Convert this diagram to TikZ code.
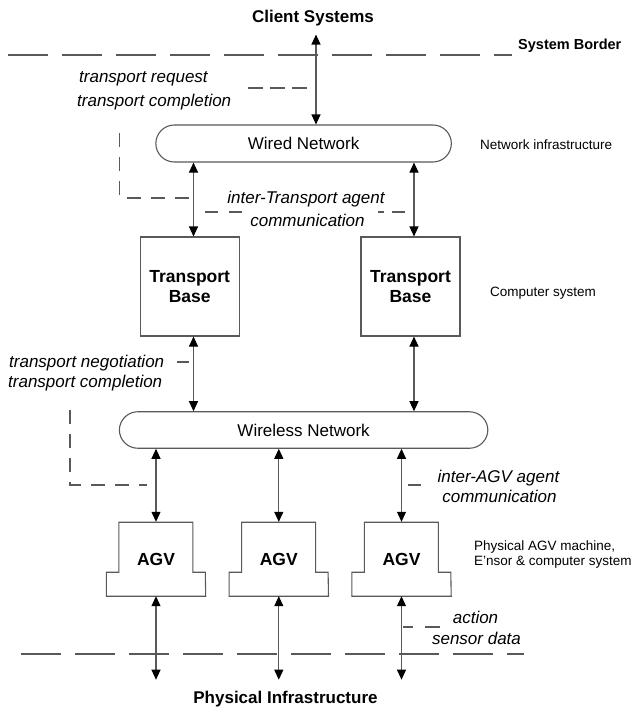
\documentclass[tikz,border=0pt]{standalone}
\usepackage{fontspec}
\setmainfont{Liberation Sans}
\usetikzlibrary{arrows.meta}
\definecolor{ink}{gray}{0.35}
\begin{document}
\begin{tikzpicture}[x=1pt,y=-1pt,
  plain/.style={font=\fontsize{17}{20}\selectfont, inner sep=0pt},
  callout/.style={font=\fontsize{17}{20}\selectfont\itshape, inner sep=0pt},
  note/.style={font=\fontsize{13.5}{16}\selectfont, inner sep=0pt},
  heading/.style={font=\fontsize{17}{20}\selectfont\bfseries, inner sep=0pt},
  boxline/.style={draw=ink, line width=1.1pt},
  net/.style={boxline, rounded corners=18.5pt, minimum height=37pt,
    font=\fontsize{17}{20}\selectfont, inner sep=0pt},
  tbox/.style={boxline, minimum width=99pt, minimum height=99pt, align=center,
    font=\fontsize{17.5}{20}\selectfont\bfseries, inner sep=0pt},
  agvbox/.style={minimum width=99pt, minimum height=74pt,
    font=\fontsize{17.5}{20}\selectfont\bfseries, inner sep=0pt},
  arr/.style={draw=ink, line width=1.1pt,
    {Triangle[width=9pt,length=10pt,color=black]}-{Triangle[width=9pt,length=10pt,color=black]}},
  border/.style={draw=ink, line width=1.1pt, dash pattern=on 40pt off 14pt},
  lead/.style={draw=ink, line width=1.1pt, dash pattern=on 14pt off 10pt},
]
\path[fill=white] (0,0) rectangle (635,709);
\useasboundingbox (0,0) rectangle (635,709);

% outer labels
\node[heading, anchor=base, outer ysep=8pt] (client) at (313,23) {Client Systems};
\node[heading, anchor=base, outer ysep=11pt] (phys) at (285.5,703) {Physical Infrastructure};
\node[font=\fontsize{14.5}{17}\selectfont\bfseries, inner sep=0pt, anchor=base west]
  (sbtext) at (518,49.3) {System Border};

% system borders
\coordinate (sbL) at (8,55);
\coordinate (sbR) at (512,55);
\coordinate (gbL) at (21,654);
\coordinate (gbR) at (524,654);
\draw[border] (sbL) -- (sbR);
\draw[border] (gbL) -- (gbR);

% networks
\node[net, minimum width=295.5pt] (wired) at (303.6,143.5) {Wired Network};
\node[net, minimum width=368.5pt, minimum height=36.5pt] (wless) at (303.6,430) {Wireless Network};

% transport bases
\node[tbox] (tbL) at (189.7,286.5) {Transport\\Base};
\node[tbox] (tbR) at (410.5,286.5) {Transport\\Base};

% AGVs
\foreach \n/\x in {1/156,2/278.8,3/401.5}{
  \node[agvbox] (agv\n) at (\x,559) {AGV};
  \draw[boxline] (agv\n.south west) -- ++(0,-24) -- ++(12.5,0) -- ++(0,-50)
    -- ++(74,0) -- ++(0,50) -- ++(12.5,0) -- (agv\n.south east) -- cycle;
}

% side notes
\node[note, anchor=base west] (netinfra) at (480,149) {Network infrastructure};
\node[note, anchor=base west] (compsys) at (490,296) {Computer system};
\node[note, anchor=base west] (agvnoteA) at (474,550) {Physical AGV machine,};
\node[note, anchor=base west] (agvnoteB) at (474,565) {E'nsor \& computer system};

% connector columns
\coordinate (xc) at (316,0);
\coordinate (xl) at (193.5,0);
\coordinate (xr) at (414,0);

% connectors
\draw[arr] (client.south -| xc) -- (wired.north -| xc);
\draw[arr] (wired.south -| xl) -- (tbL.north -| xl);
\draw[arr] (wired.south -| xr) -- (tbR.north -| xr);
\draw[arr] (tbL.south -| xl) -- (wless.north -| xl);
\draw[arr] (tbR.south -| xr) -- (wless.north -| xr);
\foreach \n in {1,2,3}{
  \draw[arr] (wless.south -| agv\n.north) -- (agv\n.north);
  \draw[arr] (agv\n.south) -- (phys.north -| agv\n.south);
}

% message labels
\node[callout, anchor=base west] (reqA) at (79,82.5) {transport request};
\node[callout, anchor=base west] (reqB) at (77,106) {transport completion};
\node[callout, anchor=base] (itA) at (306,203) {inter-Transport agent};
\node[callout, anchor=base] (itB) at (307.5,226) {communication};
\node[callout, anchor=base west] (negA) at (9,367) {transport negotiation};
\node[callout, anchor=base west] (negB) at (8,387) {transport completion};
\node[callout, anchor=base] (iaA) at (498.5,482) {inter-AGV agent};
\node[callout, anchor=base] (iaB) at (499.5,502) {communication};
\node[callout, anchor=base] (actA) at (475.5,623) {action};
\node[callout, anchor=base] (actB) at (476.5,644) {sensor data};

% leader lines
\coordinate (reqL) at (248,88);
\coordinate (reqR) at (308,88);
\draw[lead, dash pattern=on 15pt off 7pt] (reqL) -- (reqR);

\coordinate (brTop) at (119.5,133);
\coordinate (brCorner) at (119.5,198);
\coordinate (brEnd) at (189,198);
\draw[lead] (brTop) -- (brCorner) -- (brEnd);

\coordinate (itL1) at (194,212);
\coordinate (itL2) at (243,212);
\coordinate (itR1) at (378,212);
\coordinate (itR2) at (414,212);
\draw[lead, dash pattern=on 13pt off 11pt, dash phase=13pt] (itL1) -- (itL2);
\draw[lead, dash pattern=on 6pt off 8pt on 13pt off 9pt] (itR1) -- (itR2);

\coordinate (negL) at (177,362);
\coordinate (negR) at (189,362);
\draw[boxline] (negL) -- (negR);

\coordinate (lbTop) at (70,410);
\coordinate (lbCorner) at (70,485);
\coordinate (lbEnd) at (147,485);
\draw[lead] (lbTop) -- (lbCorner) -- (lbEnd);

\coordinate (iaL) at (408,485);
\coordinate (iaR) at (421,485);
\draw[boxline] (iaL) -- (iaR);

\coordinate (actL) at (403,627);
\coordinate (actR) at (440,627);
\draw[lead, dash pattern=on 10pt off 12pt on 15pt off 5pt] (actL) -- (actR);
\end{tikzpicture}
\end{document}
